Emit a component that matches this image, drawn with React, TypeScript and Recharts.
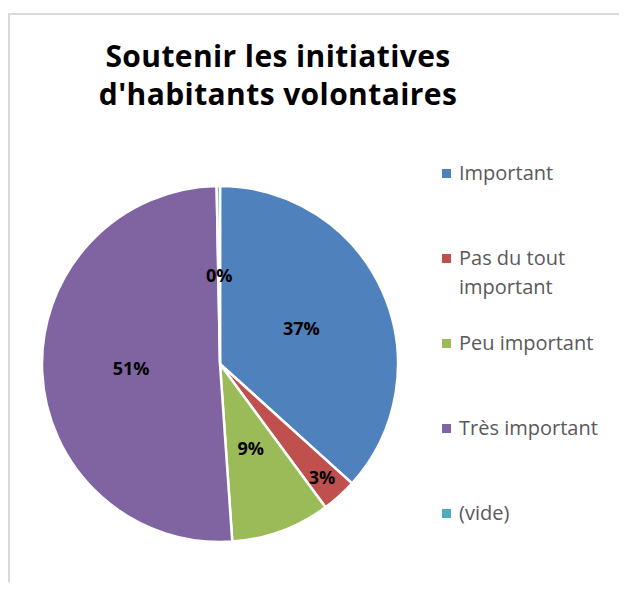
import React from 'react';
import { PieChart, Pie, Cell, Legend } from 'recharts';

const categories = ['Important', 'Pas du tout important', 'Peu important', 'Très important', '(vide)'];
const values = [36.7, 3.2, 9.0, 50.8, 0.3];
const colors = ['#4F81BD', '#C0504D', '#9BBB59', '#8064A2', '#4BACC6'];
const title = ['Soutenir les initiatives', "d'habitants volontaires"];

const data = categories.map((name, i) => ({ name, value: values[i] }));

const RADIAN = Math.PI / 180;
const FONT = '"Open Sans", sans-serif';

const renderLabel = (props: any) => {
  const { cx, cy, midAngle, outerRadius, percent } = props;
  // small slices (but not the empty one) get pushed outwards like Excel's best fit
  const factor = percent > 0.01 && percent < 0.05 ? 0.855 : 0.5;
  const r = outerRadius * factor;
  const x = cx + r * Math.cos(-midAngle * RADIAN);
  const y = cy + r * Math.sin(-midAngle * RADIAN);
  return (
    <text
      x={x}
      y={y}
      fill="#000"
      textAnchor="middle"
      dominantBaseline="central"
      style={{ fontFamily: FONT, fontWeight: 700, fontSize: 18 }}
    >
      {`${Math.round(percent * 100)}%`}
    </text>
  );
};

const renderLegend = () => (
  <div style={{ fontFamily: FONT, fontSize: 20, color: '#595959' }}>
    {categories.map((c, i) => (
      <div key={c} style={{ height: 85, display: 'flex', alignItems: 'flex-start' }}>
        <span
          style={{
            width: 9,
            height: 9,
            background: colors[i],
            marginTop: 11,
            marginRight: 8,
            flex: 'none',
          }}
        />
        <span style={{ lineHeight: '29px', width: 160 }}>{c}</span>
      </div>
    ))}
  </div>
);

export default function App() {
  return (
    <div style={{ position: 'relative', width: 611, height: 574, background: '#fff' }}>
      <div
        style={{
          position: 'absolute',
          left: 0,
          top: 5,
          right: -8,
          bottom: -8,
          borderLeft: '2px solid #D9D9D9',
          borderTop: '2px solid #D9D9D9',
        }}
      />
      <div
        style={{
          position: 'absolute',
          left: 70,
          width: 400,
          top: 29,
          textAlign: 'center',
          fontFamily: FONT,
          fontWeight: 700,
          fontSize: 30,
          letterSpacing: 0.4,
          lineHeight: '38px',
          fontVariantLigatures: 'none',
          color: '#000',
        }}
      >
        {title.map((t) => (
          <div key={t}>{t}</div>
        ))}
      </div>
      <div style={{ position: 'absolute', left: 0, top: 0 }}>
        <PieChart width={611} height={574}>
          <Pie
            data={data}
            dataKey="value"
            nameKey="name"
            cx={207}
            cy={351}
            outerRadius={178}
            startAngle={90}
            endAngle={-270}
            stroke="#fff"
            strokeWidth={2.5}
            label={renderLabel}
            labelLine={false}
            isAnimationActive={false}
          >
            {data.map((d, i) => (
              <Cell key={d.name} fill={colors[i]} />
            ))}
          </Pie>
          <Legend
            layout="vertical"
            align="right"
            verticalAlign="top"
            content={renderLegend}
            wrapperStyle={{ left: 434, top: 150, width: 180 }}
          />
        </PieChart>
      </div>
    </div>
  );
}
